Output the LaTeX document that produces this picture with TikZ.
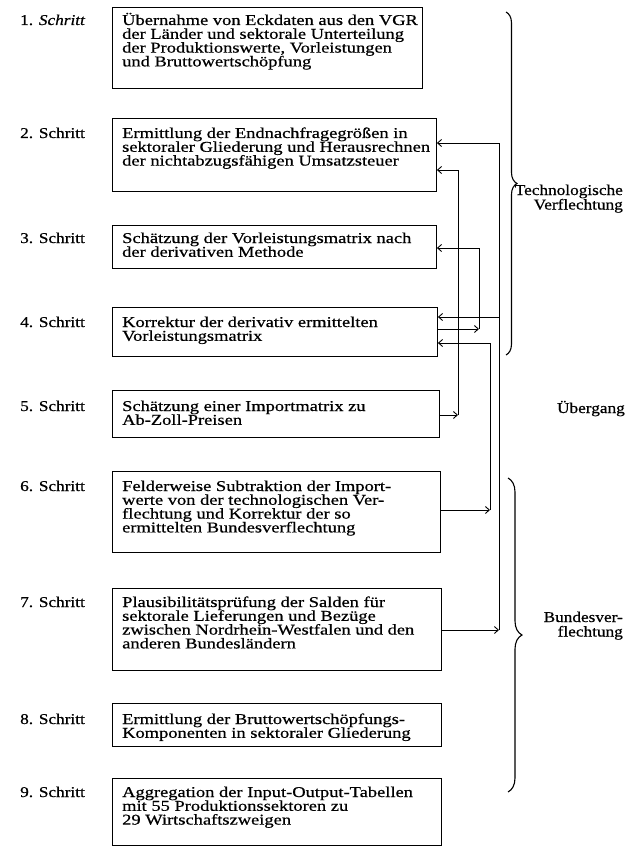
\documentclass[tikz,border=0pt]{standalone}
\usepackage{fontspec}
\setmainfont{Liberation Serif}[FakeStretch=1.23,FakeBold=0.6]
\newfontfamily\lblfont{Liberation Serif}[FakeStretch=1.15,FakeBold=0.6]
\usetikzlibrary{arrows.meta,decorations.pathreplacing}
\newcommand{\bt}[1]{\parbox[t]{325pt}{\raggedright #1}}
\newcommand{\rt}[1]{\parbox[t]{130pt}{\raggedleft #1}}
\begin{document}
\begin{tikzpicture}[x=1pt,y=-1pt,
  box/.style={draw, line width=0.9pt, inner sep=0pt, anchor=north west},
  txt/.style={inner sep=0pt, anchor=base west, font=\fontsize{15}{13.8}\selectfont},
  lbl/.style={inner sep=0pt, anchor=base west, font=\lblfont\fontsize{15}{13.8}\selectfont},
  rtxt/.style={inner sep=0pt, anchor=base east, font=\lblfont\fontsize{15}{14.5}\selectfont},
  arr/.style={-{Straight Barb[length=4pt,width=7pt]}, line width=0.9pt},
  brc/.style={decorate, decoration={brace, amplitude=#1}, line width=1.1pt}]
\useasboundingbox (0,0) rectangle (637,848);

% boxes
\node[box, minimum width=310pt, minimum height=81pt] (b1) at (112,7) {};
\node[box, minimum width=324pt, minimum height=73pt] (b2) at (112,118) {};
\node[box, minimum width=324pt, minimum height=43pt] (b3) at (112,225) {};
\node[box, minimum width=325pt, minimum height=49pt] (b4) at (112,307) {};
\node[box, minimum width=327pt, minimum height=47pt] (b5) at (112,390) {};
\node[box, minimum width=328pt, minimum height=81pt] (b6) at (112,471) {};
\node[box, minimum width=329pt, minimum height=82pt] (b7) at (112,588) {};
\node[box, minimum width=329pt, minimum height=43pt] (b8) at (112,703) {};
\node[box, minimum width=329pt, minimum height=67pt] (b9) at (112,778) {};

% box texts
\node[txt] (t1) at (122,25) {\bt{Übernahme von Eckdaten aus den VGR\\der Länder und sektorale Unterteilung\\der Produktionswerte, Vorleistungen\\und Bruttowertschöpfung}};
\node[txt] (t2) at (122,138) {\bt{Ermittlung der Endnachfragegrößen in\\sektoraler Gliederung und Herausrechnen\\der nichtabzugsfähigen Umsatzsteuer}};
\node[txt] (t3) at (122,243) {\bt{Schätzung der Vorleistungsmatrix nach\\der derivativen Methode}};
\node[txt] (t4) at (122,327) {\bt{Korrektur der derivativ ermittelten\\Vorleistungsmatrix}};
\node[txt] (t5) at (122,411) {\bt{Schätzung einer Importmatrix zu\\Ab-Zoll-Preisen}};
\node[txt] (t6) at (122,491) {\bt{Felderweise Subtraktion der Import-\\werte von der technologischen Ver-\\flechtung und Korrektur der so\\ermittelten Bundesverflechtung}};
\node[txt] (t7) at (122,607) {\bt{Plausibilitätsprüfung der Salden für\\sektorale Lieferungen und Bezüge\\zwischen Nordrhein-Westfalen und den\\anderen Bundesländern}};
\node[txt] (t8) at (122,724) {\bt{Ermittlung der Bruttowertschöpfungs-\\Komponenten in sektoraler Gliederung}};
\node[txt] (t9) at (122,797) {\bt{Aggregation der Input-Output-Tabellen\\mit 55 Produktionssektoren zu\\29 Wirtschaftszweigen}};

% step labels
\node[lbl] (s1) at (20,25) {1. \textit{Schritt}};
\node[lbl] (s2) at (20,138) {2. Schritt};
\node[lbl] (s3) at (20,243) {3. Schritt};
\node[lbl] (s4) at (20,327) {4. Schritt};
\node[lbl] (s5) at (20,411) {5. Schritt};
\node[lbl] (s6) at (20,491) {6. Schritt};
\node[lbl] (s7) at (20,607) {7. Schritt};
\node[lbl] (s8) at (20,724) {8. Schritt};
\node[lbl] (s9) at (20,797) {9. Schritt};

% connectors
\coordinate (c7) at (499,630); \coordinate (k7) at (499,143); \coordinate (j7) at (499,317);
\draw[arr] (b7.east|-c7) -- (c7);
\draw[arr] (c7) -- (k7) -- (b2.east|-k7);
\draw[arr] (j7) -- (b4.east|-j7);

\coordinate (c5) at (458,415); \coordinate (k5) at (458,170);
\draw[arr] (b5.east|-c5) -- (c5);
\draw[arr] (c5) -- (k5) -- (b2.east|-k5);

\coordinate (c4) at (479,329); \coordinate (k4) at (479,248);
\draw[arr] (b4.east|-c4) -- (c4);
\draw[arr] (c4) -- (k4) -- (b3.east|-k4);

\coordinate (c6) at (490,510); \coordinate (k6) at (490,343);
\draw[arr] (b6.east|-c6) -- (c6);
\draw[arr] (c6) -- (k6) -- (b4.east|-k6);

% braces
\coordinate (ba1) at (506,12); \coordinate (bb1) at (506,355);
\draw[brc=11pt] (ba1) -- (bb1);
\coordinate (ba2) at (508,478); \coordinate (bb2) at (508,792);
\draw[brc=14pt] (ba2) -- (bb2);

% right labels
\node[rtxt] (r1) at (623,195) {\rt{Technologische\\Verflechtung}};
\node[rtxt] (r2) at (625,413) {\rt{Übergang}};
\node[rtxt] (r3) at (623,622) {\rt{Bundesver-\\flechtung}};
\end{tikzpicture}
\end{document}
